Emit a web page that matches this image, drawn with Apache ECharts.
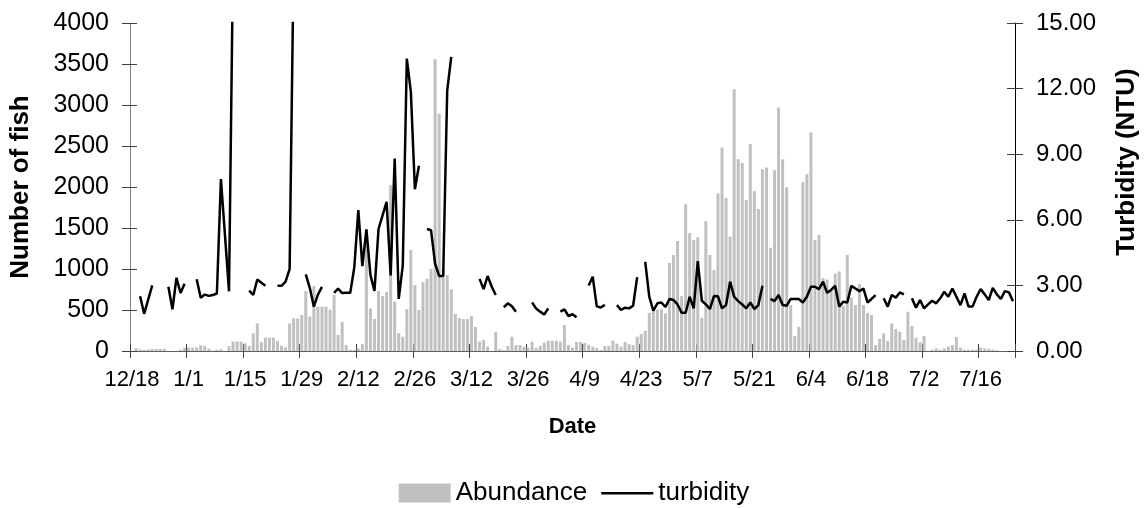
<!DOCTYPE html>
<html>
<head>
<meta charset="utf-8">
<script src="https://cdn.jsdelivr.net/npm/echarts@6/dist/echarts.min.js"></script>
<style>
  html, body { margin: 0; padding: 0; background: #ffffff; }
  #chart { width: 1148px; height: 508px; }
</style>
</head>
<body>
<div id="chart"></div>
<script>
// Daily categories run from 12/18 through 7/24 (219 days, non-leap February).
const firstMonth = 12;
const firstDay = 18;
const dayCount = 219;
const monthLengths = { 12: 31, 1: 31, 2: 28, 3: 31, 4: 30, 5: 31, 6: 30, 7: 31 };

// Dates that carry a tick and a label (every 14 days).
const tickLabels = ['12/18', '1/1', '1/15', '1/29', '2/12', '2/26', '3/12', '3/26',
                    '4/9', '4/23', '5/7', '5/21', '6/4', '6/18', '7/2', '7/16'];

// Number of fish caught per day (rows of 14 days, starting 12/18).
const abundance = [
  0, 35, 20, 15, 20, 25, 25, 25, 25, 0, 0, 0, 15, 40,
  40, 40, 45, 70, 60, 30, 5, 15, 22, 0, 60, 115, 115, 115,
  95, 60, 215, 337, 108, 162, 162, 162, 122, 65, 45, 335, 398, 398,
  439, 731, 420, 790, 540, 540, 540, 505, 682, 195, 355, 73, 14, 14,
  32, 85, 1480, 520, 390, 731, 670, 718, 2022, 601, 218, 175, 510, 1231,
  804, 500, 840, 880, 1000, 3557, 2895, 987, 926, 753, 451, 400, 390, 390,
  426, 294, 114, 134, 53, 0, 231, 24, 14, 61, 175, 73, 73, 50,
  38, 114, 41, 65, 102, 126, 126, 126, 114, 317, 73, 41, 110, 110,
  97, 77, 53, 36, 12, 61, 61, 124, 89, 53, 110, 83, 73, 175,
  207, 246, 465, 490, 505, 510, 459, 1074, 1170, 1342, 670, 1791, 1438, 1352,
  1389, 406, 1584, 1170, 987, 1921, 2481, 1868, 1393, 3192, 2339, 2294, 1840, 2522,
  1949, 1730, 2217, 2238, 1259, 2205, 2970, 2337, 1996, 560, 183, 294, 2060, 2156,
  2666, 1352, 1413, 887, 871, 733, 944, 970, 552, 1170, 650, 560, 816, 560,
  463, 439, 73, 146, 215, 122, 337, 268, 236, 134, 479, 305, 162, 106,
  183, 0, 16, 32, 16, 32, 53, 73, 170, 41, 16, 16, 16, 16,
  41, 32, 24, 16, 8, 0, 0, 0, 0
];

// Daily turbidity in NTU; null marks days without a reading.
const turbidity = [
  null, null, 2.5, 1.7, 2.35, 3.0, null, null, null, 2.94, 1.91, 3.35, 2.65, 3.07,
  null, null, 3.28, 2.44, 2.58, 2.52, 2.56, 2.63, 7.86, 5.3, 2.73, 18, null, null,
  null, 2.76, 2.56, 3.27, 3.12, 2.98, null, null, 2.98, 2.98, 3.17, 3.75, 18, null,
  null, 3.5, 2.88, 2.03, 2.58, 2.93, null, null, 2.66, 2.85, 2.65, 2.66, 2.66, 3.82,
  6.44, 3.88, 5.56, 3.47, 2.75, 5.58, 6.2, 6.82, 3.46, 8.8, 2.38, 3.9, 13.37, 11.85,
  7.4, 8.47, null, 5.58, 5.52, 4.0, 3.43, 3.43, 11.92, 13.45, null, null, null, null,
  null, null, 3.3, 2.83, 3.43, 2.95, 2.56, null, 2.0, 2.18, 2.05, 1.8, null, null,
  null, 2.22, 1.94, 1.8, 1.67, 1.95, null, null, 1.8, 1.9, 1.6, 1.68, 1.54, null,
  null, 3.0, 3.4, 2.04, 1.99, 2.11, null, null, 2.1, 1.88, 1.98, 1.95, 2.07, 3.38,
  null, 4.08, 2.48, 1.84, 2.18, 2.22, 2.01, 2.38, 2.33, 2.13, 1.75, 1.75, 2.48, 1.95,
  4.11, 2.3, 2.13, 1.92, 2.51, 2.5, 1.95, 2.1, 3.17, 2.48, 2.28, 2.13, 1.95, 2.22,
  1.92, 2.1, 2.98, null, 2.38, 2.28, 2.56, 2.1, 2.07, 2.38, 2.38, 2.38, 2.22, 2.48,
  2.94, 2.94, 2.83, 3.17, 2.66, 2.79, 2.98, 2.03, 2.25, 2.22, 2.98, 2.86, 2.74, 2.85,
  2.22, 2.38, 2.56, null, 2.41, 2.03, 2.56, 2.44, 2.68, 2.59, null, 2.41, 1.98, 2.33,
  1.95, 2.13, 2.3, 2.18, 2.41, 2.71, 2.48, 2.86, 2.48, 2.1, 2.63, 2.03, 2.03, 2.48,
  2.83, 2.59, 2.33, 2.89, 2.59, 2.38, 2.74, 2.68, 2.28
];

// Build the m/d category list.
const dates = [];
(function () {
  let m = firstMonth, d = firstDay;
  for (let i = 0; i < dayCount; i++) {
    dates.push(m + '/' + d);
    d++;
    if (d > monthLengths[m]) { d = 1; m = (m === 12) ? 1 : m + 1; }
  }
})();

const isTick = function (idx, value) { return tickLabels.indexOf(value) !== -1; };
const font = "'Liberation Sans', Arial, Helvetica, sans-serif";
const tickColor = '#404040';

// Plain horizontal stroke for the turbidity legend key; the bare moveTo points
// keep the full key box so the stroke is not stretched to fill it.
const lineKey = 'path://M0,0 M0,8.5 L52,8.5 L52,11 L0,11 Z M52,19';

// Second copies of each axis draw the inward half of the crossing tick marks.
const option = {
  animation: false,
  backgroundColor: '#ffffff',
  textStyle: { fontFamily: font },
  grid: { left: 130, right: 133, top: 23, bottom: 157, containLabel: false },
  legend: {
    data: [
      { name: 'Abundance', icon: 'rect' },
      { name: 'turbidity', icon: lineKey, itemStyle: { color: '#000', borderWidth: 0 } }
    ],
    left: 'center',
    top: 475,
    itemWidth: 52,
    itemHeight: 19,
    itemGap: 14,
    textStyle: { fontSize: 26, color: '#000', fontFamily: font }
  },
  xAxis: [
    {
      type: 'category', data: dates, boundaryGap: true, position: 'bottom',
      axisLine: { show: true, lineStyle: { color: '#606060', width: 1 } },
      axisTick: { show: true, interval: isTick, length: 7, lineStyle: { color: tickColor } },
      axisLabel: { interval: isTick, margin: 18, fontSize: 22, color: '#000', fontFamily: font },
      splitLine: { show: false },
      name: 'Date', nameLocation: 'middle', nameGap: 65,
      nameTextStyle: { fontSize: 22, fontWeight: 'bold', color: '#000', fontFamily: font }
    },
    {
      type: 'category', data: dates, boundaryGap: true, position: 'bottom',
      axisLine: { show: false },
      axisTick: { show: true, inside: true, interval: isTick, length: 7, lineStyle: { color: tickColor } },
      axisLabel: { show: false },
      splitLine: { show: false }
    }
  ],
  yAxis: [
    {
      type: 'value', min: 0, max: 4000, interval: 500, position: 'left',
      axisLine: { show: true, lineStyle: { color: '#808080', width: 1 } },
      axisTick: { show: true, length: 8, lineStyle: { color: tickColor } },
      axisLabel: { margin: 21, fontSize: 25, color: '#000', fontFamily: font,
                   formatter: function (v) { return String(v); } },
      splitLine: { show: false },
      name: 'Number of fish', nameLocation: 'middle', nameRotate: 90, nameGap: 96,
      nameTextStyle: { fontSize: 26, fontWeight: 'bold', color: '#000', fontFamily: font }
    },
    {
      type: 'value', min: 0, max: 15, interval: 3, position: 'right',
      axisLine: { show: true, lineStyle: { color: '#000', width: 1 } },
      axisTick: { show: true, length: 8, lineStyle: { color: tickColor } },
      axisLabel: { margin: 21, fontSize: 24, color: '#000', fontFamily: font,
                   formatter: function (v) { return v.toFixed(2); } },
      splitLine: { show: false },
      name: 'Turbidity (NTU)', nameLocation: 'middle', nameRotate: 90, nameGap: 99,
      nameTextStyle: { fontSize: 26, fontWeight: 'bold', color: '#000', fontFamily: font,
                       padding: [0, 0, 0, 50] }
    },
    {
      type: 'value', min: 0, max: 4000, interval: 500, position: 'left',
      axisLine: { show: false },
      axisTick: { show: true, inside: true, length: 7, lineStyle: { color: tickColor } },
      axisLabel: { show: false }, splitLine: { show: false }
    },
    {
      type: 'value', min: 0, max: 15, interval: 3, position: 'right',
      axisLine: { show: false },
      axisTick: { show: true, inside: true, length: 8, lineStyle: { color: tickColor } },
      axisLabel: { show: false }, splitLine: { show: false }
    }
  ],
  series: [
    {
      name: 'Abundance', type: 'bar', xAxisIndex: 0, yAxisIndex: 0,
      data: abundance, barWidth: 3,
      itemStyle: { color: '#c0c0c0' }
    },
    {
      name: 'turbidity', type: 'line', xAxisIndex: 0, yAxisIndex: 1,
      data: turbidity, symbol: 'none', connectNulls: false, clip: true,
      lineStyle: { color: '#000', width: 2.5 },
      itemStyle: { color: '#000' }
    }
  ]
};

const chart = echarts.init(document.getElementById('chart'), null, { renderer: 'canvas' });
chart.setOption(option);
</script>
</body>
</html>
